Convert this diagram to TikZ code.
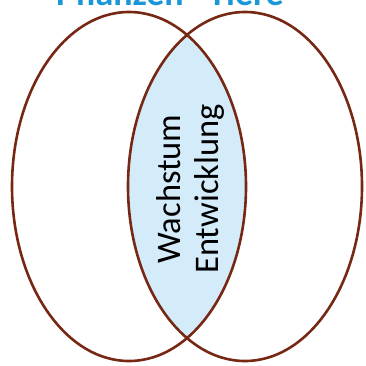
\documentclass[tikz,border=0pt]{standalone}
\usepackage{fontspec}
\setmainfont{Carlito}
\usepackage{tikz}
\usetikzlibrary{positioning}

\definecolor{rim}{RGB}{118,40,20}
\definecolor{overlap}{RGB}{212,236,250}
\definecolor{head}{RGB}{27,150,214}

\begin{document}
\begin{tikzpicture}[x=1pt,y=-1pt,
  set/.style={draw=rim,line width=2.6pt},
  ttl/.style={font=\fontsize{36}{38}\selectfont\bfseries,text=head,anchor=base,inner sep=0pt},
  lbl/.style={font=\fontsize{34.5}{38}\selectfont,align=center,rotate=90,inner sep=0pt}]
\useasboundingbox (0,0) rectangle (366,365);
\clip (0,0) rectangle (366,365);
% shaded overlap of the two sets
\begin{scope}
  \clip (129,186.5) ellipse [x radius=117,y radius=174.5];
  \fill[overlap] (245,186.5) ellipse [x radius=117,y radius=174.5];
\end{scope}
\draw[set] (129,186.5) ellipse [x radius=117,y radius=174.5];
\draw[set] (245,186.5) ellipse [x radius=117,y radius=174.5];
% headings, cut by the top edge
\node[ttl] (pfl) at (120,5) {Pflanzen};
\node[ttl] (tie) at (246,5) {Tiere};
\node[lbl] (mid) at (190,189) {Wachstum\\Entwicklung};
\end{tikzpicture}
\end{document}
